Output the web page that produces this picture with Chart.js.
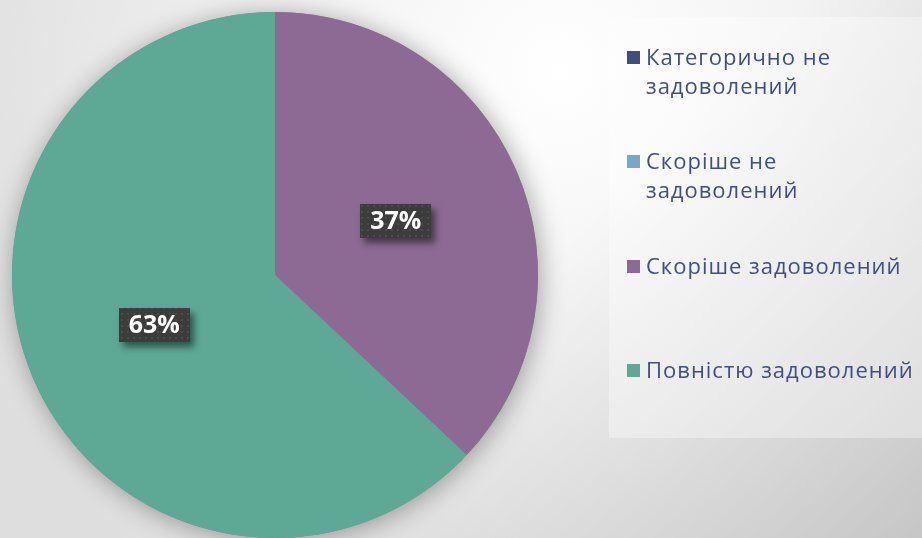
<!DOCTYPE html>
<html>
<head>
<meta charset="utf-8">
<script src="https://cdn.jsdelivr.net/npm/chart.js@4"></script>
<style>
  html, body { margin: 0; padding: 0; }
  body {
    width: 922px; height: 538px; overflow: hidden; position: relative;
    background:
      linear-gradient(135deg, rgba(0,0,0,0) 55%, rgba(0,0,0,0.12) 100%),
      radial-gradient(circle at 560px 70px, #ffffff 0px, #f3f3f3 250px, #dedede 650px);
  }
  #wrap { position: absolute; left: 0; top: 0; width: 922px; height: 538px; }
  #legendBox {
    position: absolute; left: 609px; top: 17px; width: 313px; height: 421px;
    background: rgba(255,255,255,0.35);
  }
  .item { position: absolute; left: 627px; font-family: "Open Sans", sans-serif; font-size: 22px; line-height: 29px; letter-spacing: 1px; color: #3f4f82; }
  .item .sq { position: absolute; left: 0; top: 9px; width: 13px; height: 13px; }
  .item .txt { position: absolute; left: 19px; top: 0; white-space: nowrap; }
</style>
</head>
<body>
<div id="legendBox"></div>
<div id="wrap"><canvas id="pie"></canvas></div>
<div id="legend"></div>
<script>
// Категорії та частки (%)
const categories = [
  ['Категорично не', 'задоволений'],
  ['Скоріше не', 'задоволений'],
  'Скоріше задоволений',
  'Повністю задоволений'
];
const shares = [0, 0, 37, 63];
const colors = ['#3f4e7f', '#75aac6', '#8c6a93', '#5ea896'];

// тінь під кругом
const pieShadow = {
  id: 'pieShadow',
  beforeDatasetsDraw(chart) {
    const arc = chart.getDatasetMeta(0).data[0];
    if (!arc) return;
    const ctx = chart.ctx;
    ctx.save();
    ctx.shadowColor = 'rgba(0,0,0,0.35)';
    ctx.shadowBlur = 26;
    ctx.shadowOffsetX = 2;
    ctx.shadowOffsetY = 3;
    ctx.fillStyle = '#888';
    ctx.beginPath();
    ctx.arc(arc.x, arc.y, arc.outerRadius, 0, Math.PI * 2);
    ctx.fill();
    ctx.restore();
  }
};

// підписи з відсотками у темних рамках
const boxLabels = {
  id: 'boxLabels',
  afterDatasetsDraw(chart) {
    const ctx = chart.ctx;
    const pc = document.createElement('canvas');
    pc.width = 6; pc.height = 6;
    const p = pc.getContext('2d');
    p.fillStyle = '#3c3c3c'; p.fillRect(0, 0, 6, 6);
    p.fillStyle = '#4b4b4b'; p.fillRect(1, 1, 2, 2);
    const pattern = ctx.createPattern(pc, 'repeat');
    chart.getDatasetMeta(0).data.forEach((el, i) => {
      const v = shares[i];
      if (!v) return;
      const c = el.getCenterPoint();
      const text = v + '%';
      ctx.save();
      ctx.font = 'bold 25px "Open Sans", sans-serif';
      const w = ctx.measureText(text).width + 20;
      const h = 34;
      ctx.shadowColor = 'rgba(0,0,0,0.5)';
      ctx.shadowBlur = 7;
      ctx.shadowOffsetX = 4;
      ctx.shadowOffsetY = 5;
      ctx.fillStyle = pattern;
      ctx.fillRect(Math.round(c.x - w / 2), Math.round(c.y - 2 - h / 2), Math.round(w), h);
      ctx.shadowColor = 'transparent';
      ctx.fillStyle = '#ffffff';
      ctx.textAlign = 'center';
      ctx.textBaseline = 'middle';
      ctx.fillText(text, c.x, c.y - 1);
      ctx.restore();
    });
  }
};

const chart = new Chart(document.getElementById('pie'), {
  type: 'pie',
  data: {
    labels: categories,
    datasets: [{
      data: shares,
      backgroundColor: colors,
      borderWidth: 0
    }]
  },
  options: {
    responsive: true,
    maintainAspectRatio: false,
    animation: false,
    layout: { padding: { left: 12, top: 12, right: 384, bottom: 0 } },
    plugins: {
      legend: { display: false },
      tooltip: { enabled: false }
    }
  },
  plugins: [pieShadow, boxLabels]
});

// легенда праворуч
const legend = document.getElementById('legend');
categories.forEach((lab, i) => {
  const d = document.createElement('div');
  d.className = 'item';
  d.style.top = (42 + i * 104.4) + 'px';
  const sq = document.createElement('div');
  sq.className = 'sq';
  sq.style.background = colors[i];
  const t = document.createElement('div');
  t.className = 'txt';
  t.innerHTML = [].concat(lab).join('<br>');
  d.appendChild(sq);
  d.appendChild(t);
  legend.appendChild(d);
});
</script>
</body>
</html>
